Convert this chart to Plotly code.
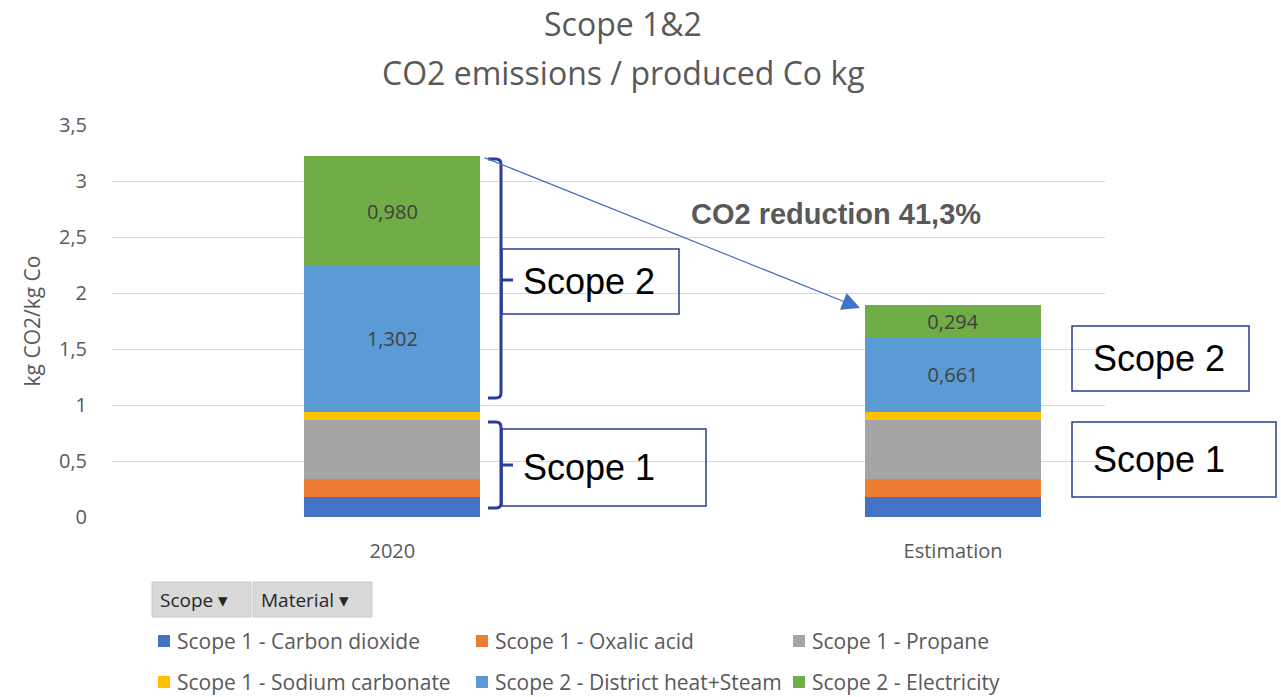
import plotly.graph_objects as go

# ---------------- data ----------------
categories = ["2020", "Estimation"]
series_names = [
    "Scope 1 - Carbon dioxide",
    "Scope 1 - Oxalic acid",
    "Scope 1 - Propane",
    "Scope 1 - Sodium carbonate",
    "Scope 2 - District heat+Steam",
    "Scope 2 - Electricity",
]
carbon_dioxide = [0.18, 0.18]
oxalic_acid = [0.16, 0.16]
propane = [0.525, 0.525]
sodium_carbonate = [0.075, 0.075]
district_heat_steam = [1.302, 0.661]
electricity = [0.980, 0.294]
labelled = [False, False, False, False, True, True]
y_ticks = [0, 0.5, 1, 1.5, 2, 2.5, 3, 3.5]
y_tick_text = ["0", "0,5", "1", "1,5", "2", "2,5", "3", "3,5"]

series_values = [carbon_dioxide, oxalic_acid, propane, sodium_carbonate,
                 district_heat_steam, electricity]
colors = ["#4472C4", "#ED7D31", "#A5A5A5", "#FFC000", "#5B9BD5", "#70AD47"]

# ---------------- layout geometry (pixels) ----------------
W, H = 1281, 697
L, R, T, B = 112, 1105, 125, 517          # plot area edges


def xp(px):
    return (px - L) / (R - L)


def yp(py):
    return (B - py) / (B - T)


FONT = "Open Sans"
GREY = "#595959"
BLUE_DARK = "#2B3C9B"

fig = go.Figure()
xpos = list(range(len(categories)))
for name, vals, col, lab in zip(series_names, series_values, colors, labelled):
    fig.add_trace(go.Bar(
        x=xpos, y=vals, name=name, marker=dict(color=col, line=dict(width=0)),
        width=0.314,
        text=vals if lab else None,
        texttemplate="%{y:.3f}" if lab else None,
        textposition="inside" if lab else "none",
        insidetextanchor="middle",
        textangle=0,
        constraintext="none",
        textfont=dict(family=FONT, size=20, color="#404040"),
        showlegend=False,
        hoverinfo="name+y",
    ))

fig.update_layout(
    barmode="stack",
    width=W, height=H,
    margin=dict(l=L, r=W - R, t=T, b=H - B, pad=0),
    paper_bgcolor="white", plot_bgcolor="white",
    separators=",.",
    font=dict(family=FONT, color=GREY),
    showlegend=False,
)
fig.update_xaxes(
    range=[-0.5, 1.271], tickvals=xpos, ticktext=categories,
    showgrid=False, zeroline=False, showline=False, ticks="",
    tickfont=dict(family=FONT, size=20, color=GREY), ticklabelstandoff=20,
    fixedrange=True,
)
fig.update_yaxes(
    range=[0, 3.5], tickvals=y_ticks, ticktext=y_tick_text,
    showgrid=True, gridcolor="#D9D9D9", gridwidth=1, zeroline=False,
    showline=False, ticks="",
    tickfont=dict(family=FONT, size=20, color=GREY), ticklabelstandoff=24,
    title=dict(text="kg CO2/kg Co", font=dict(family=FONT, size=21, color=GREY),
               standoff=12),
    fixedrange=True,
)

ann = []
shapes = []

# title
ann.append(dict(text="Scope 1&2", x=xp(623), y=yp(23), xref="paper", yref="paper",
                showarrow=False, xanchor="center", yanchor="middle",
                font=dict(family=FONT, size=32, color=GREY)))
ann.append(dict(text="CO2 emissions / produced Co kg", x=xp(623), y=yp(72),
                xref="paper", yref="paper", showarrow=False, xanchor="center",
                yanchor="middle", font=dict(family=FONT, size=32, color=GREY)))

# reduction text and arrow
ann.append(dict(text="<b>CO2 reduction 41,3%</b>", x=xp(689), y=yp(214),
                xref="paper", yref="paper", showarrow=False, xanchor="left",
                yanchor="middle",
                font=dict(family="Liberation Sans", size=29, color=GREY)))
ann.append(dict(text="", x=xp(860), y=yp(308), xref="paper", yref="paper",
                showarrow=True, ax=483 - 860, ay=157 - 308, arrowhead=2,
                arrowsize=3, arrowwidth=1.2, arrowcolor="#4472C4",
                standoff=0, startstandoff=0))


def brace(x, y0, y1, ym):
    r = 5
    return (f"M {xp(x-13)},{yp(y0)} L {xp(x-r)},{yp(y0)} "
            f"Q {xp(x)},{yp(y0)} {xp(x)},{yp(y0+r)} "
            f"L {xp(x)},{yp(y1-r)} Q {xp(x)},{yp(y1)} {xp(x-r)},{yp(y1)} "
            f"L {xp(x-13)},{yp(y1)} M {xp(x)},{yp(ym)} L {xp(x+12)},{yp(ym)}")


for (y0, y1, ym) in [(159, 398, 280), (422, 508, 465)]:
    shapes.append(dict(type="path", path=brace(501, y0, y1, ym), xref="paper",
                       yref="paper", line=dict(color=BLUE_DARK, width=3)))

# labelled boxes
boxes = [("Scope 2", 502, 249, 679, 314), ("Scope 1", 502, 429, 706, 506),
         ("Scope 2", 1072, 326, 1249, 391), ("Scope 1", 1072, 422, 1276, 497)]
for text, x0, y0, x1, y1 in boxes:
    shapes.append(dict(type="rect", x0=xp(x0), x1=xp(x1), y0=yp(y0), y1=yp(y1),
                       xref="paper", yref="paper",
                       line=dict(color=BLUE_DARK, width=1.5)))
    ann.append(dict(text=text, x=xp(x0 + 19), y=yp((y0 + y1) / 2 + 0), xref="paper",
                    yref="paper", showarrow=False, xanchor="left",
                    yanchor="middle",
                    font=dict(family="Liberation Sans", size=36, color="black")))

# pivot field buttons
for text, x0, x1 in [("Scope ▾", 152, 251), ("Material ▾", 253, 372)]:
    shapes.append(dict(type="rect", x0=xp(x0), x1=xp(x1), y0=yp(582), y1=yp(617),
                       xref="paper", yref="paper", fillcolor="#D9D9D9",
                       line=dict(color="#C8C8C8", width=1)))
    ann.append(dict(text=text, x=xp(x0 + 6), y=yp(600), xref="paper", yref="paper",
                    showarrow=False, xanchor="left", yanchor="middle",
                    font=dict(family=FONT, size=19, color="#262626")))

# legend (manual, laid out like the Excel pivot chart legend)
col_x = [158, 476, 793]
row_y = [641, 682]
for i, (name, col) in enumerate(zip(series_names, colors)):
    cx = col_x[i % 3]
    cy = row_y[i // 3]
    shapes.append(dict(type="rect", x0=xp(cx), x1=xp(cx + 12), y0=yp(cy - 6),
                       y1=yp(cy + 6), xref="paper", yref="paper", fillcolor=col,
                       line=dict(width=0)))
    ann.append(dict(text=name, x=xp(cx + 17), y=yp(cy), xref="paper",
                    yref="paper", showarrow=False, xanchor="left",
                    yanchor="middle", font=dict(family=FONT, size=21, color=GREY)))

fig.update_layout(annotations=ann, shapes=shapes)
fig.write_html("out.html",
               config={"displayModeBar": False},
               post_script="document.body.style.margin='0';"
                           "document.body.style.overflow='hidden';")
